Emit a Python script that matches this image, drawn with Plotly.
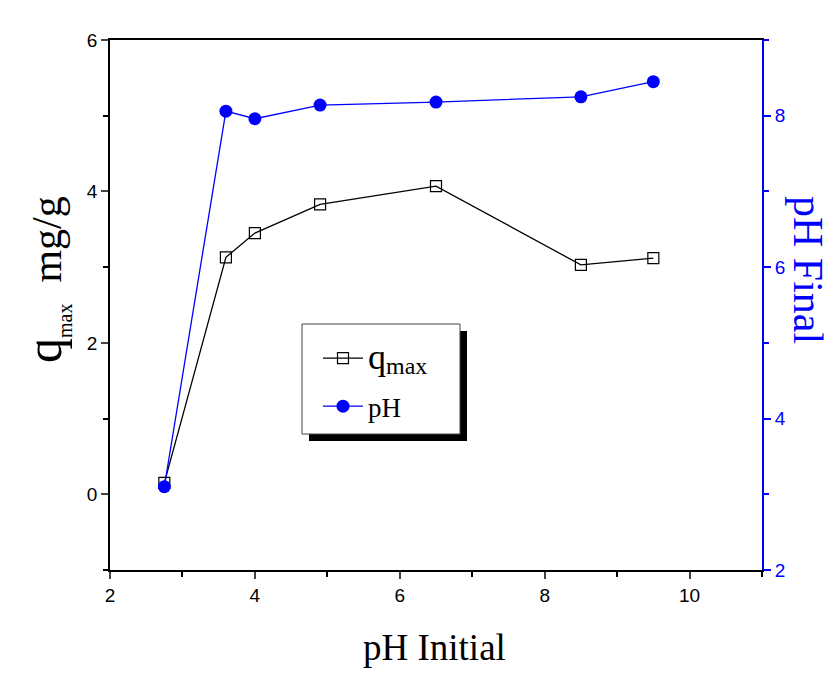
import plotly.graph_objects as go

ph_initial = [2.75, 3.6, 4.0, 4.9, 6.5, 8.5, 9.5]
q_max = [0.15, 3.13, 3.45, 3.83, 4.07, 3.03, 3.12]
ph_final = [3.10, 8.06, 7.96, 8.14, 8.18, 8.25, 8.45]

W, H = 831, 675
L, R, T, B = 110, 69, 40, 105
SERIF = "Liberation Serif, Times New Roman, serif"

fig = go.Figure()
fig.add_trace(go.Scatter(
    x=ph_initial, y=q_max, mode="lines+markers",
    name="<span style='font-size:36px'>q</span><sub><span style='font-size:24px'>max</span></sub>",
    legendgroup="a",
    line=dict(color="black", width=1.3),
    marker=dict(symbol="square-open", size=11, color="black", line=dict(width=1.2)),
    yaxis="y"))
fig.add_trace(go.Scatter(
    x=ph_initial, y=ph_final, name="pH", mode="lines+markers", legendgroup="b",
    line=dict(color="blue", width=1.3),
    marker=dict(symbol="circle", size=13, color="blue"),
    yaxis="y2"))

tickfont = dict(family="Arial, Liberation Sans", size=19, color="black")
pw, ph = W - L - R, H - T - B
def px(x): return (x - L) / pw
def py(y): return (H - B - y) / ph

fig.update_layout(
    width=W, height=H,
    margin=dict(l=L, r=R, t=T, b=B),
    paper_bgcolor="white", plot_bgcolor="white",
    showlegend=True,
    legend=dict(x=px(318), y=py(334),
                xanchor="left", yanchor="top",
                bgcolor="rgba(0,0,0,0)", borderwidth=0,
                font=dict(family=SERIF, size=27, color="black"),
                itemwidth=40, traceorder="grouped", tracegroupgap=10),
    xaxis=dict(range=[2, 11], tickvals=[2, 4, 6, 8, 10], ticks="outside", ticklen=7,
               tickwidth=1.5, showline=True, linecolor="black", linewidth=1.5,
               mirror=True, showgrid=False, zeroline=False, tickfont=tickfont,
               minor=dict(tickvals=[3, 5, 7, 9, 11], ticks="outside", ticklen=5, tickwidth=1.5,
                          tickcolor="black", showgrid=False)),
    yaxis=dict(range=[-1, 6], tickvals=[0, 2, 4, 6], ticks="outside", ticklen=7,
               tickwidth=1.5, showline=True, linecolor="black", linewidth=1.5,
               showgrid=False, zeroline=False, tickfont=tickfont,
               minor=dict(tickvals=[-1, 1, 3, 5], ticks="outside", ticklen=5, tickwidth=1.5,
                          tickcolor="black", showgrid=False)),
    yaxis2=dict(range=[2, 9], tickvals=[2, 4, 6, 8], ticks="outside", ticklen=7,
                tickwidth=1.5, tickcolor="blue", showline=True, linecolor="blue", linewidth=2,
                overlaying="y", side="right", showgrid=False, zeroline=False,
                tickfont=dict(family="Arial, Liberation Sans", size=19, color="blue"),
                minor=dict(tickvals=[3, 5, 7, 9], ticks="outside", ticklen=5, tickwidth=1.5,
                           tickcolor="blue", showgrid=False)),
)

# legend box with shadow
fig.add_shape(type="rect", xref="paper", yref="paper",
              x0=px(309), x1=px(467), y0=py(441), y1=py(331),
              fillcolor="black", line=dict(width=0), layer="above")
fig.add_shape(type="rect", xref="paper", yref="paper",
              x0=px(302), x1=px(460), y0=py(434), y1=py(324),
              fillcolor="white", line=dict(color="#444", width=1), layer="above")

fig.add_annotation(
    text="q<sub><span style='font-size:20px'>max</span></sub>"
         "<span style='font-size:42px'>  mg/g</span>",
    xref="paper", yref="paper", x=px(46), y=py(280), xanchor="center", yanchor="middle",
    textangle=-90, showarrow=False,
    font=dict(family=SERIF, size=50, color="black"))
fig.add_annotation(text="pH Final", xref="paper", yref="paper",
                   x=px(808), y=py(270), xanchor="center", yanchor="middle",
                   textangle=90, showarrow=False,
                   font=dict(family=SERIF, size=42, color="blue"))
fig.add_annotation(text="pH Initial", xref="paper", yref="paper",
                   x=px(434), y=py(647), xanchor="center", yanchor="middle", showarrow=False,
                   font=dict(family=SERIF, size=37, color="black"))

fig.write_html("out.html")
